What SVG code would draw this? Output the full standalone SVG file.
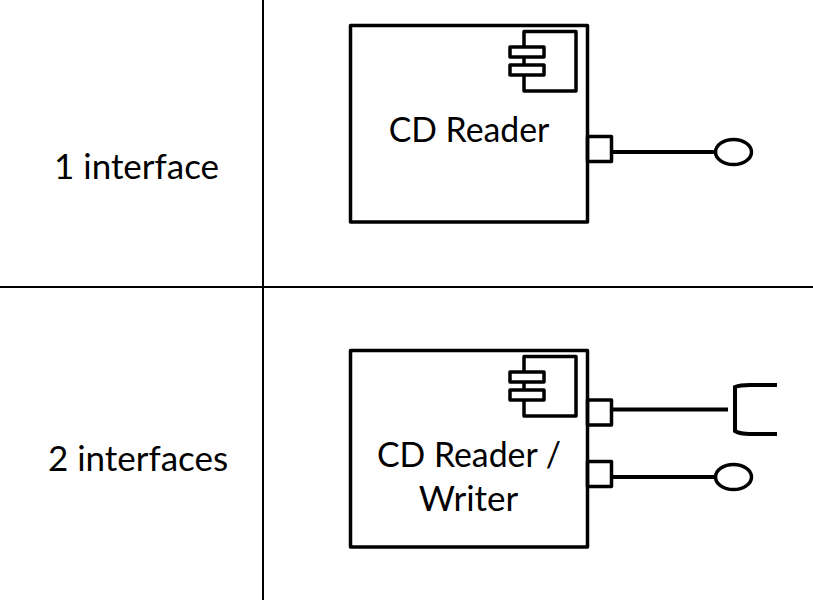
<svg xmlns="http://www.w3.org/2000/svg" width="813" height="600" viewBox="0 0 813 600">
<style>
.s{fill:none;stroke:#000;stroke-width:3.500;stroke-linejoin:round}
.w{fill:#fff;stroke:#000;stroke-width:3.500;stroke-linejoin:round}
.c{fill:none;stroke:#000;stroke-width:4}
.g{fill:none;stroke:#000;stroke-width:2}
text{font-family:Lato,"Liberation Sans",sans-serif;font-size:35px;fill:#000;text-anchor:middle}
.n{font-size:33.800px}
</style>
<rect width="813" height="600" fill="#fff"/>
<g id="grid"><line class="g" x1="263" y1="0" x2="263" y2="600"/><line class="g" x1="0" y1="287" x2="813" y2="287"/></g>
<g id="label-1"><text x="136.500" y="179">1 interface</text></g>
<g id="label-2"><text x="138" y="471">2 interfaces</text></g>
<g id="reader">
<rect class="s" x="350.500" y="25.500" width="237" height="196.500"/>
<path class="s" d="M524 31.500H576V91H524Z"/>
<rect class="w" x="510" y="47" width="34" height="10"/>
<rect class="w" x="510" y="65" width="34" height="10"/>
<text class="n" x="469" y="142">CD Reader</text>
</g>
<g id="writer">
<rect class="s" x="350.500" y="350.500" width="237" height="196.500"/>
<path class="s" d="M524 356.500H576V416H524Z"/>
<rect class="w" x="510" y="372" width="34" height="10"/>
<rect class="w" x="510" y="390" width="34" height="10"/>
<text class="n" x="469" y="467">CD Reader /</text>
<text x="468.500" y="511">Writer</text>
</g>
<g id="connectors">
<rect class="s" x="587.500" y="136.500" width="24" height="25"/>
<line class="c" x1="612" y1="152" x2="715" y2="152"/>
<ellipse class="s" cx="733.500" cy="152" rx="18" ry="12.500"/>
<rect class="s" x="587.500" y="400" width="24" height="25"/>
<line class="c" x1="612" y1="409.500" x2="728" y2="409.500"/>
<path class="c" d="M777 385H750Q740 385 735 387V431Q740 434 750 434H777"/>
<rect class="s" x="587.500" y="461.500" width="24" height="25"/>
<line class="c" x1="612" y1="477" x2="715" y2="477"/>
<ellipse class="s" cx="733.500" cy="477" rx="18" ry="12.500"/>
</g>
</svg>
